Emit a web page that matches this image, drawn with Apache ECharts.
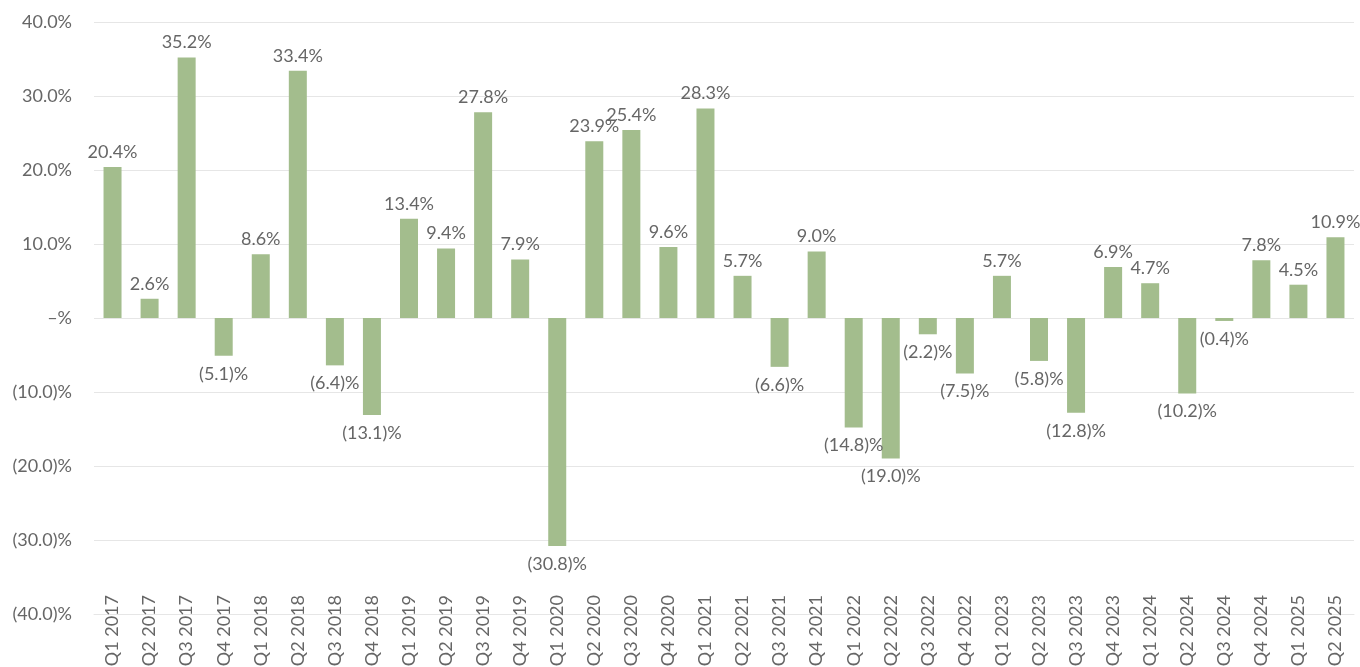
<!DOCTYPE html>
<html><head><meta charset="utf-8">
<script src="https://cdn.jsdelivr.net/npm/echarts@6/dist/echarts.min.js"></script>
<style>html,body{margin:0;padding:0;background:#fff}#c{width:1360px;height:667px}</style>
</head><body><div id="c"></div>
<script>
const categories = ["Q1 2017","Q2 2017","Q3 2017","Q4 2017","Q1 2018","Q2 2018","Q3 2018","Q4 2018","Q1 2019","Q2 2019","Q3 2019","Q4 2019","Q1 2020","Q2 2020","Q3 2020","Q4 2020","Q1 2021","Q2 2021","Q3 2021","Q4 2021","Q1 2022","Q2 2022","Q3 2022","Q4 2022","Q1 2023","Q2 2023","Q3 2023","Q4 2023","Q1 2024","Q2 2024","Q3 2024","Q4 2024","Q1 2025","Q2 2025"];
const values = [20.4,2.6,35.2,-5.1,8.6,33.4,-6.4,-13.1,13.4,9.4,27.8,7.9,-30.8,23.9,25.4,9.6,28.3,5.7,-6.6,9.0,-14.8,-19.0,-2.2,-7.5,5.7,-5.8,-12.8,6.9,4.7,-10.2,-0.4,7.8,4.5,10.9];
const yMin = -40, yMax = 40, yStep = 10;

function fmt(v){
  if (Math.abs(v) < 1e-9) return '\u2013%';
  if (v < 0) return '(' + Math.abs(v).toFixed(1) + ')%';
  return v.toFixed(1) + '%';
}
const txt = '#666666';
const fs = 18;
const fw = 400;
const chart = echarts.init(document.getElementById('c'));
chart.setOption({
  animation:false,
  textStyle:{fontFamily:'Lato'},
  grid:{left:94,right:6,top:22,bottom:53,containLabel:false,outerBoundsMode:'none'},
  xAxis:{type:'category',data:categories,
    axisLine:{onZero:false,show:true,lineStyle:{color:'#e6e6e6'}},
    axisTick:{show:false},
    axisLabel:{rotate:90,interval:0,margin:-19,color:txt,fontSize:fs,fontWeight:fw,fontFamily:'Lato'}},
  yAxis:{type:'value',min:yMin,max:yMax,interval:yStep,
    axisLine:{show:false},axisTick:{show:false},
    splitLine:{lineStyle:{color:'#e6e6e6',width:1}},
    axisLabel:{formatter:fmt,color:txt,fontSize:fs,fontWeight:fw,margin:22,fontFamily:'Lato'}},
  series:[{type:'bar',barWidth:18,
    itemStyle:{color:'#a3bd8d'},
    data:values.map(v=>({value:v,label:{position: v<0?'bottom':'top', distance: v<0?9:6}})),
    label:{show:true,formatter:p=>fmt(p.value),color:txt,fontSize:fs,fontWeight:fw,fontFamily:'Lato'}
  }]
});
</script></body></html>
